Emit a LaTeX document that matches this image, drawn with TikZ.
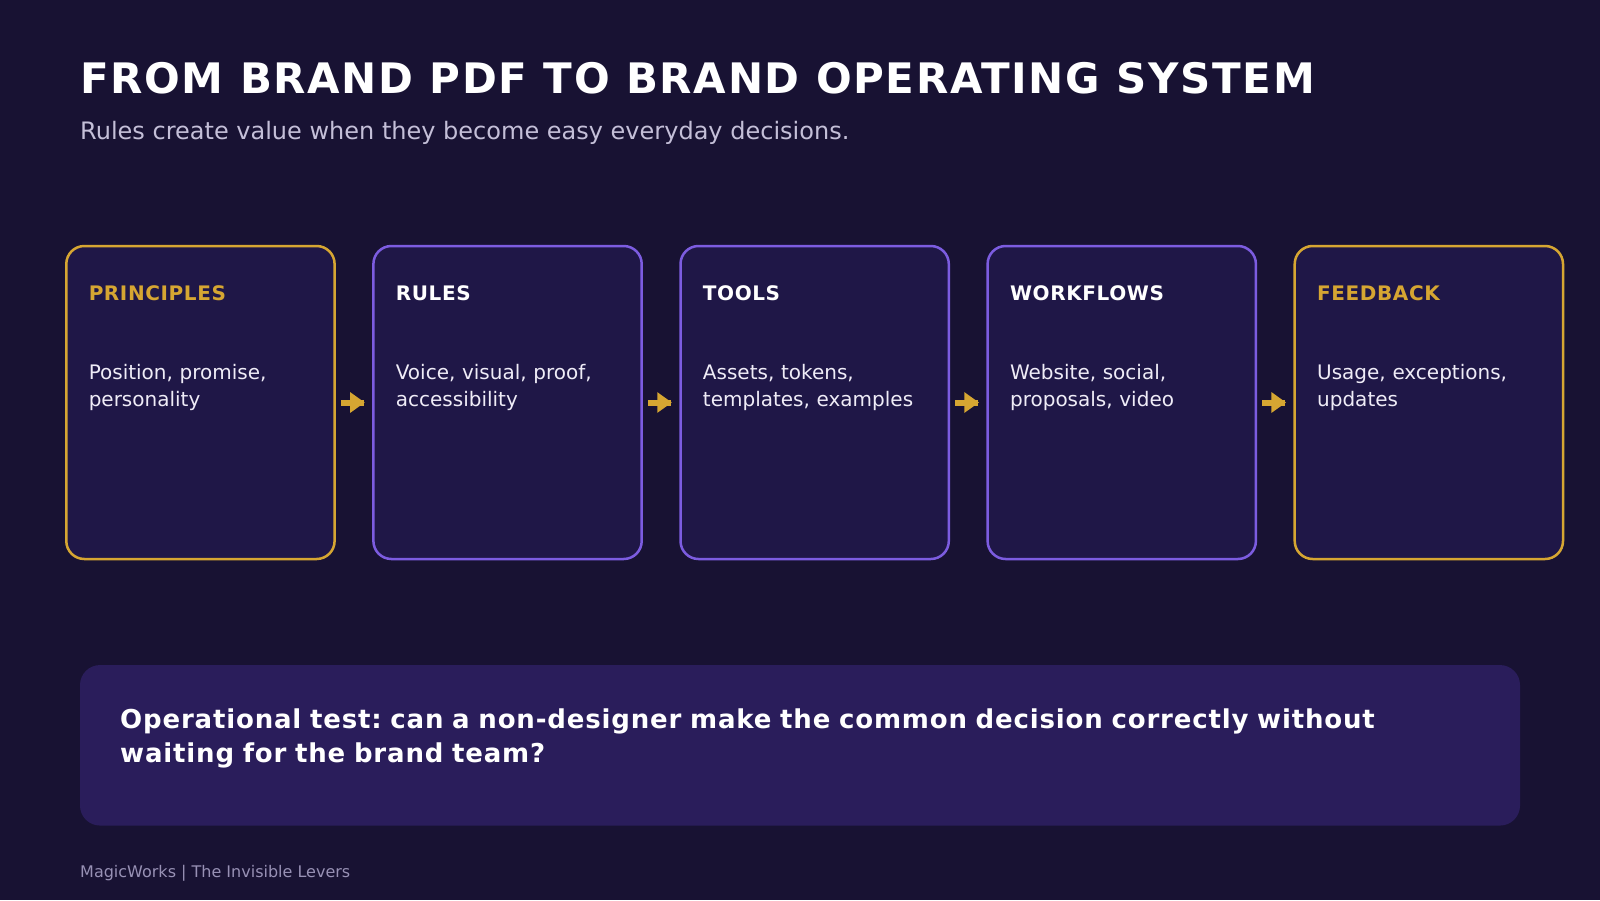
\documentclass[tikz,border=0pt]{standalone}
\usepackage{fontspec}
\setmainfont{DejaVu Sans}
\frenchspacing
\definecolor{bgc}{HTML}{181233}
\definecolor{cardfill}{HTML}{1F1747}
\definecolor{testfill}{HTML}{2A1D5B}
\definecolor{gold}{HTML}{D6A632}
\definecolor{violet}{HTML}{7C5CE0}
\definecolor{subc}{HTML}{C4BFD8}
\definecolor{footc}{HTML}{9891B5}
\definecolor{bodyc}{HTML}{EFECF7}
\begin{document}
\begin{tikzpicture}[x=1pt,y=-1pt,
  card/.style={rectangle, fill=cardfill, line width=2.5pt, rounded corners=18pt,
    minimum width=268.3pt, minimum height=313pt, inner sep=0pt},
  goldcard/.style={card, draw=gold},
  violetcard/.style={card, draw=violet},
  lbl/.style={anchor=base west, inner sep=0pt,
    font=\fontsize{20}{24}\selectfont\bfseries\addfontfeature{LetterSpace=3}},
  body/.style={anchor=base west, inner sep=0pt, text width=250pt, align=left,
    text=bodyc, font=\fontsize{20}{27}\selectfont},
  shaft/.style={draw=gold, line width=6pt},
  headfill/.style={fill=gold},
]
\useasboundingbox (0,0) rectangle (1600,900);
\fill[bgc] (0,0) rectangle (1600,900);

% title and subtitle
\node[anchor=base west, inner sep=0pt, text=white,
  font=\fontsize{42}{50}\selectfont\bfseries\addfontfeature{LetterSpace=4}]
  (title) at (80,93.3) {FROM BRAND PDF TO BRAND OPERATING SYSTEM};
\node[anchor=base west, inner sep=0pt, text=subc, font=\fontsize{24}{29}\selectfont]
  (subtitle) at (80,139.3) {Rules create value when they become easy everyday decisions.};

% cards
\node[goldcard]   (b1) at (200.45,402.5) {};
\node[violetcard] (b2) at (507.55,402.5) {};
\node[violetcard] (b3) at (814.65,402.5) {};
\node[violetcard] (b4) at (1121.75,402.5) {};
\node[goldcard]   (b5) at (1428.85,402.5) {};

% card labels
\node[lbl, text=gold]  (l1) at ([xshift=23.5pt,yshift=-55.7pt]b1.north west) {PRINCIPLES};
\node[lbl, text=white] (l2) at ([xshift=23.5pt,yshift=-55.7pt]b2.north west) {RULES};
\node[lbl, text=white] (l3) at ([xshift=23.5pt,yshift=-55.7pt]b3.north west) {TOOLS};
\node[lbl, text=white] (l4) at ([xshift=23.5pt,yshift=-55.7pt]b4.north west) {WORKFLOWS};
\node[lbl, text=gold]  (l5) at ([xshift=23.5pt,yshift=-55.7pt]b5.north west) {FEEDBACK};

% card bodies
\node[body] (t1) at ([xshift=23.5pt,yshift=-134.3pt]b1.north west) {Position, promise,\\personality};
\node[body] (t2) at ([xshift=23.5pt,yshift=-134.3pt]b2.north west) {Voice, visual, proof,\\accessibility};
\node[body] (t3) at ([xshift=23.5pt,yshift=-134.3pt]b3.north west) {Assets, tokens,\\templates, examples};
\node[body] (t4) at ([xshift=23.5pt,yshift=-134.3pt]b4.north west) {Website, social,\\proposals, video};
\node[body] (t5) at ([xshift=23.5pt,yshift=-134.3pt]b5.north west) {Usage, exceptions,\\updates};

% arrows between cards
\foreach \a/\b in {b1/b2,b2/b3,b3/b4,b4/b5}{
  \draw[shaft] ([xshift=5.3pt]\a.east) -- ([xshift=-8.3pt]\b.west);
  \fill[headfill] ([xshift=14.3pt,yshift=10.4pt]\a.east) -- ([xshift=28.8pt]\a.east)
    -- ([xshift=14.3pt,yshift=-10.4pt]\a.east) -- cycle;
}

% operational test panel
\node[rectangle, fill=testfill, rounded corners=20pt, minimum width=1440pt,
  minimum height=160.5pt, inner sep=0pt] (test) at (800,745.3) {};
\node[anchor=base west, inner sep=0pt, text width=1380pt, align=left, text=white,
  font=\fontsize{26}{33.5}\selectfont\bfseries\addfontfeature{LetterSpace=3.2}]
  (testtext) at (120,728.8) {Operational test: can a non-designer make the common decision correctly without\\waiting for the brand team?};

% footer
\node[anchor=base west, inner sep=0pt, text=footc, font=\fontsize{16}{19}\selectfont]
  (footer) at (80,877.7) {MagicWorks | The Invisible Levers};
\end{tikzpicture}
\end{document}
